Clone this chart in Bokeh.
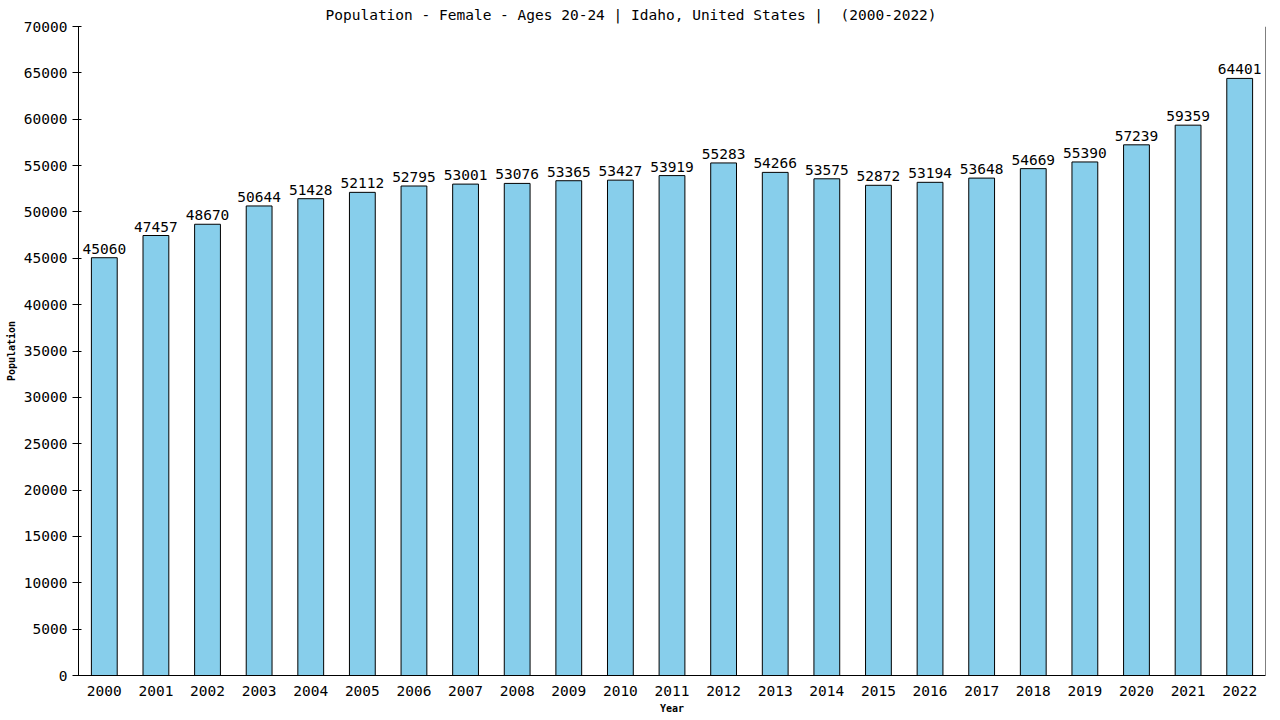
from bokeh.plotting import figure
from bokeh.models import ColumnDataSource, Span, FixedTicker, Title
from bokeh.embed import file_html
from bokeh.resources import INLINE
from bokeh.core.properties import value

years = [str(y) for y in range(2000, 2023)]
population = [45060, 47457, 48670, 50644, 51428, 52112, 52795, 53001, 53076, 53365,
              53427, 53919, 55283, 54266, 53575, 52872, 53194, 53648, 54669, 55390,
              57239, 59359, 64401]
y_ticks = list(range(0, 70001, 5000))
title_text = "Population - Female - Ages 20-24 | Idaho, United States | \u00a0(2000-2022)"

FONT = "DejaVu Sans Mono"

src = ColumnDataSource(dict(year=years, pop=population, lbl=[str(v) for v in population]))

p = figure(x_range=years, y_range=(0, 70000), width=1272, height=716,
           output_backend="svg", toolbar_location=None,
           min_border_left=78, min_border_right=7, min_border_bottom=39, min_border_top=26)
p.x_range.range_padding = 0
p.title = Title(text=title_text, align="left", text_font=FONT, text_font_size="14.5px",
                text_font_style="normal", text_color="black", standoff=8, offset=247)

p.vbar(x="year", top="pop", width=0.5, source=src, fill_color="#87CEEB",
       line_color="black", line_width=1)
p.text(x="year", y="pop", text="lbl", source=src, text_align="center",
       text_baseline="alphabetic", y_offset=-9, text_font=value(FONT),
       text_font_size="14.5px", text_color="black")

p.outline_line_color = None
p.xgrid.grid_line_color = None
p.ygrid.grid_line_color = None
p.add_layout(Span(location=len(years), dimension="height", line_color="black", line_width=1))

p.yaxis.ticker = FixedTicker(ticks=y_ticks)
p.yaxis.minor_tick_line_color = None
p.yaxis.major_tick_in = 3
p.yaxis.major_tick_out = 6
p.yaxis.major_label_standoff = 5
p.yaxis.axis_label = "Population"
p.yaxis.axis_label_text_font_size = "10px"
p.yaxis.axis_label_text_font_style = "bold"
p.yaxis.axis_label_standoff = 4

p.xaxis.major_tick_line_color = None
p.xaxis.minor_tick_line_color = None
p.xaxis.major_label_standoff = 4
p.xaxis.axis_label = "Year"
p.xaxis.axis_label_text_font_size = "10px"
p.xaxis.axis_label_text_font_style = "bold"
p.xaxis.axis_label_standoff = 4

for ax in (p.xaxis, p.yaxis):
    ax.major_label_text_font = FONT
    ax.major_label_text_font_size = "14.5px"
    ax.major_label_text_color = "black"
    ax.axis_label_text_font = FONT
    ax.axis_label_text_color = "black"
    ax.axis_line_color = "black"
p.yaxis.major_tick_line_color = "black"

open("out.html", "w").write(file_html(p, INLINE))
